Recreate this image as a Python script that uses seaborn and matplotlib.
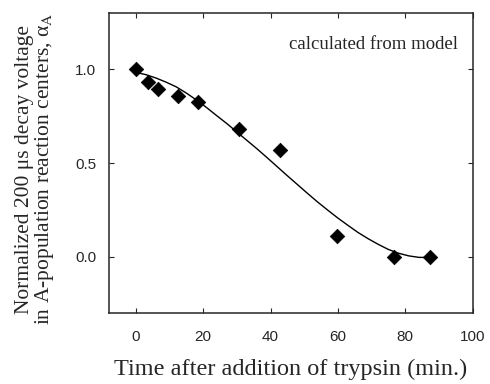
import numpy as np
import pandas as pd
import matplotlib
matplotlib.use("Agg")
import matplotlib.pyplot as plt
import seaborn as sns

# measured points (time in min, normalized voltage)
time_min = [0, 3.7, 6.7, 12.6, 18.3, 30.5, 42.9, 59.8, 76.7, 87.3]
alpha_a = [1.00, 0.93, 0.894, 0.855, 0.824, 0.679, 0.571, 0.109, 0.0, 0.0]

# model curve
model_t = [0, 3, 6, 9, 12, 15, 18, 21, 24, 27, 30, 33, 36, 39, 42, 45,
           48, 51, 54, 57, 60, 63, 66, 69, 72, 75, 78, 81, 84, 87, 88]
model_a = [0.982, 0.970, 0.952, 0.930, 0.905, 0.872, 0.835, 0.795, 0.752,
           0.710, 0.665, 0.620, 0.575, 0.528, 0.480, 0.432, 0.385, 0.338,
           0.292, 0.249, 0.207, 0.168, 0.130, 0.097, 0.067, 0.040, 0.020,
           0.006, -0.002, -0.003, -0.002]

x_ticks = [0, 20, 40, 60, 80, 100]
y_ticks = [0.0, 0.5, 1.0]

sns.set_style("ticks")
plt.rcParams['font.family'] = ['Liberation Sans', 'DejaVu Sans']
plt.rcParams['mathtext.fontset'] = 'stix'

points = pd.DataFrame({'t': time_min, 'a': alpha_a})
model = pd.DataFrame({'t': model_t, 'a': model_a})

fig = plt.figure(figsize=(4.9, 3.84), dpi=100)
ax = fig.add_axes([0.2224, 0.184, 0.742, 0.783])

sns.lineplot(data=model, x='t', y='a', ax=ax, color='black', linewidth=1.0)
sns.scatterplot(data=points, x='t', y='a', ax=ax, marker='D', s=55,
                color='black', edgecolor='black', linewidth=0.5, zorder=3)

ax.set_xlim(-8, 100)
ax.set_ylim(-0.3, 1.3)
ax.set_xticks(x_ticks)
ax.set_yticks(y_ticks)
ax.set_yticklabels([f"{v:.1f}" for v in y_ticks])
ax.tick_params(direction='in', length=3.5, width=0.8, top=True, right=True,
               labelsize=11)
ax.tick_params(axis='x', pad=12)
ax.tick_params(axis='y', pad=9)
for sp in ax.spines.values():
    sp.set_linewidth(1.1)

serif = ['Liberation Serif', 'DejaVu Serif']
ax.set_xlabel("Time after addition of trypsin (min.)", family=serif,
              fontsize=17.5, labelpad=11)
ax.set_ylabel("Normalized 200 \u03bcs decay voltage\n"
              "in A-population reaction centers, \u03b1$_{\\rm A}$",
              family=serif, fontsize=15.5, linespacing=0.95)
ax.yaxis.set_label_coords(-0.145, 0.48)
ax.text(95.6, 1.13, "calculated from model", family=serif, fontsize=13.5,
        ha='right', va='center')

fig.savefig("out.png", dpi=100)
